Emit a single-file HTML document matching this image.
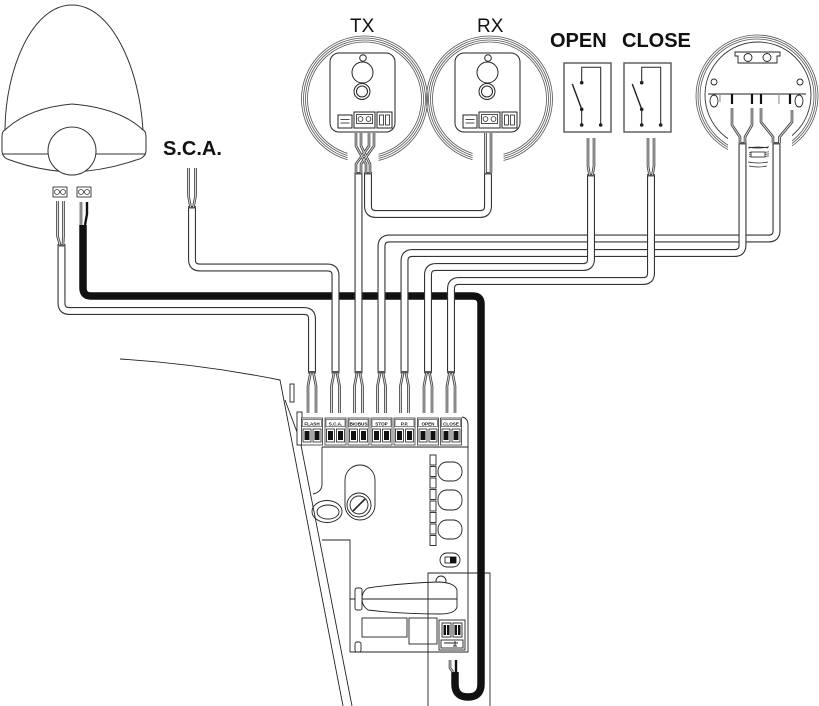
<!DOCTYPE html>
<html><head><meta charset="utf-8"><style>
html,body{margin:0;padding:0;background:#fff;}
svg{display:block;}
text{font-family:"Liberation Sans",Arial,sans-serif;}
.co{fill:none;stroke:#333;stroke-width:8;}
.ci{fill:none;stroke:#fff;stroke-width:5.8;}
.wo{fill:none;stroke:#3a3a3a;stroke-width:2.6;}
.wi{fill:none;stroke:#d8d8d8;stroke-width:1;}
</style></head><body>
<svg width="819" height="706" viewBox="0 0 819 706" xmlns="http://www.w3.org/2000/svg">
<defs>
<mask id="eyem" maskUnits="userSpaceOnUse" x="-100" y="-100" width="200" height="200">
<rect x="-100" y="-100" width="200" height="200" fill="#fff"/>
<rect x="-17" y="35" width="31" height="40" fill="#000"/>
</mask>
<mask id="devm" maskUnits="userSpaceOnUse" x="-100" y="-100" width="200" height="200">
<rect x="-100" y="-100" width="200" height="200" fill="#fff"/>
<rect x="-29" y="38" width="21" height="40" fill="#000"/>
<rect x="12" y="38" width="23" height="40" fill="#000"/>
</mask>
</defs>

<!-- LAMP -->
<g fill="#fff" stroke="#333" stroke-width="1">
<path d="M5,131 C5,70 32,5 72,5 C112,5 140,70 143,131"/>
<path d="M5,130 Q2,131 2,137 L2,150 Q2,158 10,160 Q40,171 72,172 Q104,171 136,160 Q146,158 146,150 L146,137 Q146,131 143,130 Q120,108 72,104 Q28,108 5,130 Z"/>
<line x1="2" y1="154" x2="49" y2="154"/><line x1="95" y1="154" x2="146" y2="154"/>
<circle cx="72" cy="151" r="24"/>
<rect x="53" y="187" width="14" height="10" stroke-width="0.9"/>
<rect x="77" y="187" width="14" height="10" stroke-width="0.9"/>
<circle cx="57" cy="192" r="2.5" stroke-width="0.8"/><circle cx="63" cy="192" r="2.5" stroke-width="0.8"/>
<circle cx="81" cy="192" r="2.5" stroke-width="0.8"/><circle cx="87" cy="192" r="2.5" stroke-width="0.8"/>
</g>

<!-- LABELS -->
<text x="163" y="155" font-size="20" font-weight="bold" fill="#111">S.C.A.</text>
<text x="350" y="32" font-size="19" fill="#111">TX</text>
<text x="477" y="32" font-size="19" fill="#111">RX</text>
<text x="550" y="47" font-size="20" font-weight="bold" fill="#111">OPEN</text>
<text x="622" y="47" font-size="20" font-weight="bold" fill="#111">CLOSE</text>

<!-- TX / RX photocells -->
<g transform="translate(364.5,99)">
<g fill="none" stroke="#555" stroke-width="0.8" mask="url(#eyem)">
<circle r="63"/><circle r="61"/><circle r="59"/><circle r="57"/>
</g>
<g fill="#fff" stroke="#222" stroke-width="1">
<rect x="-34.5" y="-46" width="65" height="79" rx="9"/>
<circle cx="-1.5" cy="-41" r="3.3"/>
<circle cx="-2" cy="-26.5" r="10.5"/>
<circle cx="-2.5" cy="-7.5" r="8"/><circle cx="-2.5" cy="-7.5" r="5.5"/>
<rect x="-10.5" y="13" width="21" height="16"/>
<rect x="-8" y="15.5" width="16" height="9" stroke-width="0.8"/>
<circle cx="-4" cy="20" r="2.4" stroke-width="0.8"/><circle cx="4" cy="20" r="2.4" stroke-width="0.8"/>
<rect x="-26.5" y="16" width="14" height="13"/>
<line x1="-24" y1="20.5" x2="-15" y2="20.5" stroke-width="0.8"/><line x1="-24" y1="24" x2="-15" y2="24" stroke-width="0.8"/>
<rect x="12.5" y="13" width="15" height="16"/>
<rect x="15" y="16" width="4" height="10" stroke-width="0.8"/><rect x="21" y="16" width="4" height="10" stroke-width="0.8"/>
</g>
</g>
<g transform="translate(489.5,99)">
<g fill="none" stroke="#555" stroke-width="0.8" mask="url(#eyem)">
<circle r="63"/><circle r="61"/><circle r="59"/><circle r="57"/>
</g>
<g fill="#fff" stroke="#222" stroke-width="1">
<rect x="-34.5" y="-46" width="65" height="79" rx="9"/>
<circle cx="-1.5" cy="-41" r="3.3"/>
<circle cx="-2" cy="-26.5" r="10.5"/>
<circle cx="-2.5" cy="-7.5" r="8"/><circle cx="-2.5" cy="-7.5" r="5.5"/>
<rect x="-10.5" y="13" width="21" height="16"/>
<rect x="-8" y="15.5" width="16" height="9" stroke-width="0.8"/>
<circle cx="-4" cy="20" r="2.4" stroke-width="0.8"/><circle cx="4" cy="20" r="2.4" stroke-width="0.8"/>
<rect x="-26.5" y="16" width="14" height="13"/>
<line x1="-24" y1="20.5" x2="-15" y2="20.5" stroke-width="0.8"/><line x1="-24" y1="24" x2="-15" y2="24" stroke-width="0.8"/>
<rect x="12.5" y="13" width="15" height="16"/>
<rect x="15" y="16" width="4" height="10" stroke-width="0.8"/><rect x="21" y="16" width="4" height="10" stroke-width="0.8"/>
</g>
</g>

<!-- OPEN / CLOSE switches -->
<g>
<rect x="564" y="63" width="47" height="69" fill="#fff" stroke="#555" stroke-width="1.4"/>
<rect x="624" y="63" width="47" height="69" fill="#fff" stroke="#555" stroke-width="1.4"/>
<g fill="none" stroke="#222" stroke-width="1">
<path d="M581.7,82.7 V67.3 H600.7 V125"/><path d="M581.7,109.3 V125"/>
<path d="M641.7,82.7 V67.3 H660.7 V125"/><path d="M641.7,109.3 V125"/>
<path d="M572.3,84 L581.7,109.3" stroke-width="1.4"/>
<path d="M632.3,84 L641.7,109.3" stroke-width="1.4"/>
</g>
<g fill="#222">
<circle cx="581.7" cy="82.7" r="1.8"/><circle cx="581.7" cy="109.3" r="1.8"/><circle cx="581.7" cy="125" r="1.8"/><circle cx="600.7" cy="125" r="1.8"/>
<circle cx="641.7" cy="82.7" r="1.8"/><circle cx="641.7" cy="109.3" r="1.8"/><circle cx="641.7" cy="125" r="1.8"/><circle cx="660.7" cy="125" r="1.8"/>
</g>
</g>

<!-- Right device -->
<g transform="translate(757,96)">
<g fill="none" stroke="#555" stroke-width="0.8" mask="url(#devm)">
<circle r="61"/><circle r="59"/><circle r="57"/>
<circle cx="1" cy="-1" r="53" stroke="#333" stroke-width="0.9"/>
</g>
</g>
<g fill="#fff" stroke="#222" stroke-width="0.9">
<path d="M735,52 H780 V56 H777 V63 H738 V56 H735 Z"/>
<circle cx="748" cy="57.5" r="4"/><circle cx="767" cy="57.5" r="4"/>
<line x1="708" y1="94" x2="806" y2="94"/>
<circle cx="714" cy="82" r="3"/><circle cx="800" cy="82" r="3"/>
<ellipse cx="714" cy="101" rx="4" ry="6"/><ellipse cx="799" cy="101" rx="4" ry="6"/>
<rect x="751" y="152" width="14" height="5" stroke-width="0.8"/>
<path d="M748,148 Q758,146 768,148 M748,162 Q758,164 768,162 M749,166 Q758,168 767,166" fill="none" stroke-width="0.7"/>
</g>
<g stroke="#111" stroke-width="2.2">
<line x1="732" y1="94" x2="732" y2="104"/><line x1="752" y1="94" x2="752" y2="104"/>
<line x1="761" y1="94" x2="761" y2="104"/><line x1="790" y1="94" x2="790" y2="104"/>
</g>
<g stroke="#999" stroke-width="1.2">
<line x1="779" y1="94" x2="779" y2="104"/><line x1="720" y1="94" x2="720" y2="102"/>
</g>

<!-- CONTROL BOARD / HOUSING -->
<g fill="none" stroke="#222" stroke-width="0.9">
<path d="M120,359 Q200,364 280,380 L343,706"/>
<path d="M285,400 L300,440 L352,706"/>
<rect x="290" y="384" width="4" height="18" fill="#fff"/>
<rect x="297" y="412" width="5" height="33" fill="#fff"/>
<path d="M322,447 H468 V652 H350"/>
<path d="M462,417 Q468,418 468,425 V447"/>
<path d="M322,447 V484 Q322,492 313,494"/>
<ellipse cx="327" cy="511.5" rx="15" ry="11"/>
<ellipse cx="328" cy="512" rx="11" ry="7"/>
<path d="M322,540 H350 V652"/>
<rect x="345" y="465" width="30" height="55" rx="15" fill="#fff"/>
<circle cx="359" cy="505" r="12" fill="#fff"/>
<circle cx="359" cy="505" r="9"/>
<line x1="353" y1="511" x2="365" y2="499" stroke-width="1.6"/>
<rect x="430" y="455" width="6" height="10"/><rect x="430" y="466.5" width="6" height="10"/>
<rect x="430" y="478" width="6" height="10"/><rect x="430" y="489.5" width="6" height="10"/>
<rect x="430" y="501" width="6" height="10"/><rect x="430" y="512.5" width="6" height="10"/>
<rect x="430" y="524" width="6" height="10"/><rect x="430" y="535.5" width="6" height="10"/>
<rect x="438" y="462" width="24" height="19" rx="9"/>
<rect x="438" y="490" width="24" height="20" rx="9"/>
<rect x="438" y="520" width="24" height="19" rx="9"/>
<rect x="440" y="553" width="20" height="14" rx="7"/>
<rect x="445" y="557" width="11" height="6"/>
<circle cx="441" cy="581" r="5" fill="#fff"/>
<path d="M368,588 Q400,583 440,582 Q455,583 457,590 L457,607 Q455,614 440,614 Q400,614 368,610 Q362,606 362,599 Q362,591 368,588 Z" fill="#fff"/>
<line x1="350" y1="599" x2="457" y2="599"/>
<rect x="355" y="588" width="7" height="22" rx="2" fill="#fff"/>
<rect x="355" y="642" width="6" height="10" rx="2"/>
<rect x="362" y="618" width="45" height="19"/>
<rect x="409" y="618" width="28" height="26"/>
<rect x="439" y="620" width="26" height="30" fill="#fff"/>
<rect x="442" y="623" width="9" height="14"/><rect x="453" y="623" width="9" height="14"/>
<rect x="441" y="640" width="22" height="8"/>
<path d="M444,643 H458 M455,641 V646 M453,646 H457"/>
<path d="M428,706 V573 H490 V706"/>
</g>
<rect x="450" y="557" width="6" height="6" fill="#111"/>
<rect x="443.5" y="625" width="6" height="10" fill="#111"/><rect x="454.5" y="625" width="6" height="10" fill="#111"/>
<rect x="446" y="625" width="1" height="10" fill="#fff"/><rect x="457" y="625" width="1" height="10" fill="#fff"/>

<!-- TERMINAL BLOCK -->
<g fill="#fff" stroke="#333" stroke-width="0.8">
<rect x="301.5" y="418" width="21" height="27"/><rect x="325" y="418" width="21" height="27"/>
<rect x="348" y="418" width="21" height="27"/><rect x="371" y="418" width="21" height="27"/>
<rect x="394" y="418" width="21" height="27"/><rect x="417.5" y="418" width="21" height="27"/>
<rect x="440.5" y="418" width="21" height="27"/>
</g>
<g fill="#fff" stroke="#333" stroke-width="0.6">
<rect x="302.5" y="419.5" width="19" height="7"/><rect x="326" y="419.5" width="19" height="7"/>
<rect x="349" y="419.5" width="19" height="7"/><rect x="372" y="419.5" width="19" height="7"/>
<rect x="395" y="419.5" width="19" height="7"/><rect x="418.5" y="419.5" width="19" height="7"/>
<rect x="441.5" y="419.5" width="19" height="7"/>
</g>
<g font-size="4.6" font-weight="bold" text-anchor="middle" fill="#111">
<text x="312" y="425.3">FLASH</text><text x="335.5" y="425.3">S.C.A.</text>
<text x="358.5" y="425.3">BIOBUS</text><text x="381.5" y="425.3">STOP</text>
<text x="404.5" y="425.3">P.P.</text><text x="428" y="425.3">OPEN</text>
<text x="451" y="425.3">CLOSE</text>
</g>
<g>
<g fill="#fff" stroke="#222" stroke-width="0.8">
<rect x="303" y="429" width="8" height="13"/><rect x="313" y="429" width="8" height="13"/>
<rect x="326.5" y="429" width="8" height="13"/><rect x="336.5" y="429" width="8" height="13"/>
<rect x="349.5" y="429" width="8" height="13"/><rect x="359.5" y="429" width="8" height="13"/>
<rect x="372.5" y="429" width="8" height="13"/><rect x="382.5" y="429" width="8" height="13"/>
<rect x="395.5" y="429" width="8" height="13"/><rect x="405.5" y="429" width="8" height="13"/>
<rect x="419" y="429" width="8" height="13"/><rect x="429" y="429" width="8" height="13"/>
<rect x="442" y="429" width="8" height="13"/><rect x="452" y="429" width="8" height="13"/>
</g>
<g fill="#111">
<rect x="304.5" y="431" width="5" height="9"/><rect x="314.5" y="431" width="5" height="9"/>
<rect x="328" y="431" width="5" height="9"/><rect x="338" y="431" width="5" height="9"/>
<rect x="351" y="431" width="5" height="9"/><rect x="361" y="431" width="5" height="9"/>
<rect x="374" y="431" width="5" height="9"/><rect x="384" y="431" width="5" height="9"/>
<rect x="397" y="431" width="5" height="9"/><rect x="407" y="431" width="5" height="9"/>
<rect x="420.5" y="431" width="5" height="9"/><rect x="430.5" y="431" width="5" height="9"/>
<rect x="443.5" y="431" width="5" height="9"/><rect x="453.5" y="431" width="5" height="9"/>
</g>
</g>

<!-- BLACK CABLE -->
<path d="M83,225 V288 Q83,296 91,296 H473 Q481,296 481,304 V684 Q481,697 468,697 Q455,697 455,684 V672" fill="none" stroke="#111" stroke-width="7.5"/>

<!-- WHITE CABLES -->
<path class="co" d="M61.5,245 V303 Q61.5,311 69.5,311 H304 Q312,311 312,319 V373"/>
<path class="ci" d="M61.5,245 V303 Q61.5,311 69.5,311 H304 Q312,311 312,319 V373"/>
<path class="co" d="M192,207 V259.5 Q192,267.5 200,267.5 H327.5 Q335.5,267.5 335.5,275.5 V373"/>
<path class="ci" d="M192,207 V259.5 Q192,267.5 200,267.5 H327.5 Q335.5,267.5 335.5,275.5 V373"/>
<path class="co" d="M358.5,173 V373"/>
<path class="ci" d="M358.5,173 V373"/>
<path class="co" d="M368,173 V206 Q368,214 376,214 H480 Q488,214 488,206 V173"/>
<path class="ci" d="M368,173 V206 Q368,214 376,214 H480 Q488,214 488,206 V173"/>
<path class="co" d="M381.5,373 V246.5 Q381.5,238.5 389.5,238.5 H768.5 Q776.5,238.5 776.5,230.5 V143"/>
<path class="ci" d="M381.5,373 V246.5 Q381.5,238.5 389.5,238.5 H768.5 Q776.5,238.5 776.5,230.5 V143"/>
<path class="co" d="M404.5,373 V261 Q404.5,253 412.5,253 H734.5 Q742.5,253 742.5,245 V143"/>
<path class="ci" d="M404.5,373 V261 Q404.5,253 412.5,253 H734.5 Q742.5,253 742.5,245 V143"/>
<path class="co" d="M428,373 V275 Q428,267 436,267 H583 Q591,267 591,259 V175"/>
<path class="ci" d="M428,373 V275 Q428,267 436,267 H583 Q591,267 591,259 V175"/>
<path class="co" d="M451,373 V289 Q451,281 459,281 H643 Q651,281 651,273 V175"/>
<path class="ci" d="M451,373 V289 Q451,281 459,281 H643 Q651,281 651,273 V175"/>

<!-- cable end collars -->
<g fill="#555">
<rect x="308" y="371" width="8" height="2.5"/><rect x="331.5" y="371" width="8" height="2.5"/>
<rect x="354.5" y="371" width="8" height="2.5"/><rect x="377.5" y="371" width="8" height="2.5"/>
<rect x="400.5" y="371" width="8" height="2.5"/><rect x="424" y="371" width="8" height="2.5"/>
<rect x="447" y="371" width="8" height="2.5"/>
<rect x="57.5" y="244" width="8" height="2.5"/><rect x="188" y="206" width="8" height="2.5"/>
<rect x="354.5" y="172" width="8" height="2.5"/><rect x="364" y="172" width="8" height="2.5"/>
<rect x="484" y="172" width="8" height="2.5"/>
<rect x="772.5" y="142" width="8" height="2.5"/><rect x="738.5" y="142" width="8" height="2.5"/>
<rect x="587" y="174" width="8" height="2.5"/><rect x="647" y="174" width="8" height="2.5"/>
</g>

<!-- WIRES -->
<path class="wo" d="M57.5,201 V236 L60,245 M63.5,201 V236 L63,245
M188.5,168 V196 L190.5,207 M195.5,168 V196 L193.5,207
M356,133 V146 L366,164 V173 M361,133 V146 L370,164 V173 M369,133 V146 L356,164 V173 M374,133 V146 L361,164 V173
M485.5,133 V173 M491,133 V173
M588,138 V166 L589.5,175 M594,138 V166 L592.5,175
M648,138 V166 L649.5,175 M654,138 V166 L652.5,175
M732,108 V125 L740,137 V143 M752,108 V125 L745,137 V143
M761,108 V122 L773,137 V143 M792,110 V122 L779.5,137 V143
M81,202 V225
M310.5,373 L308,386 V413 M313.5,373 L316,386 V413
M334,373 L331.5,386 V413 M337,373 L339.5,386 V413
M357,373 L354.5,386 V413 M360,373 L362.5,386 V413
M380,373 L377.5,386 V413 M383,373 L385.5,386 V413
M403,373 L400.5,386 V413 M406,373 L408.5,386 V413
M426.5,373 L424,386 V413 M429.5,373 L432,386 V413
M449.5,373 L447,386 V413 M452.5,373 L455,386 V413
M450,660 V668 L453,672"/>
<path class="wi" d="M57.5,201 V236 L60,245 M63.5,201 V236 L63,245
M188.5,168 V196 L190.5,207 M195.5,168 V196 L193.5,207
M356,133 V146 L366,164 V173 M361,133 V146 L370,164 V173 M369,133 V146 L356,164 V173 M374,133 V146 L361,164 V173
M485.5,133 V173 M491,133 V173
M588,138 V166 L589.5,175 M594,138 V166 L592.5,175
M648,138 V166 L649.5,175 M654,138 V166 L652.5,175
M732,108 V125 L740,137 V143 M752,108 V125 L745,137 V143
M761,108 V122 L773,137 V143 M792,110 V122 L779.5,137 V143
M81,202 V225
M310.5,373 L308,386 V413 M313.5,373 L316,386 V413
M334,373 L331.5,386 V413 M337,373 L339.5,386 V413
M357,373 L354.5,386 V413 M360,373 L362.5,386 V413
M380,373 L377.5,386 V413 M383,373 L385.5,386 V413
M403,373 L400.5,386 V413 M406,373 L408.5,386 V413
M426.5,373 L424,386 V413 M429.5,373 L432,386 V413
M449.5,373 L447,386 V413 M452.5,373 L455,386 V413
M450,660 V668 L453,672"/>
<path d="M87,202 V214 L85,225 M456,660 V672" fill="none" stroke="#111" stroke-width="2.4"/>
</svg>
</body></html>
